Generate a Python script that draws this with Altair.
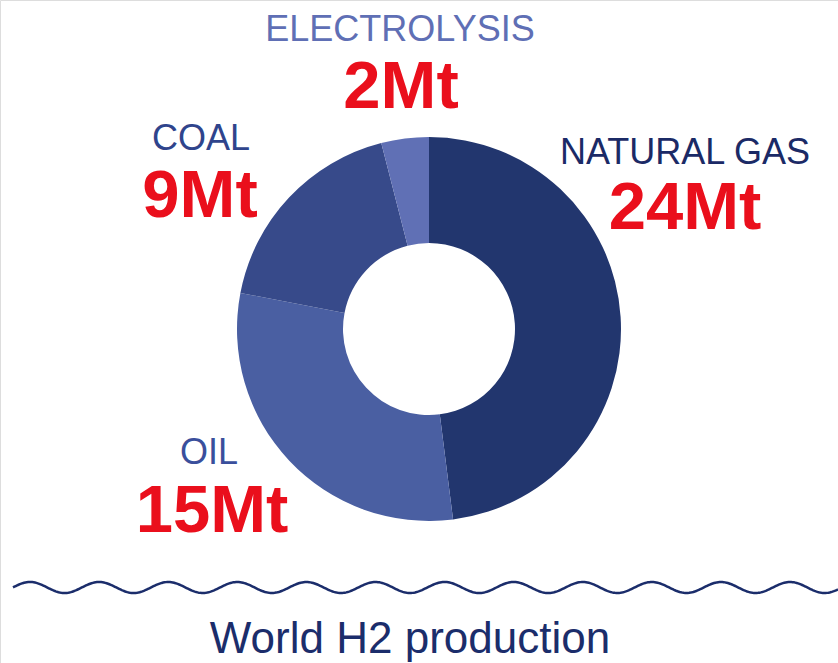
import altair as alt
import numpy as np
import pandas as pd

# Data
sources = ["NATURAL GAS", "OIL", "COAL", "ELECTROLYSIS"]
production_mt = [24, 15, 9, 2]
title_text = "World H2 production"

slice_colors = ["#22366e", "#4a5fa2", "#374a8a", "#6070b5"]
label_colors = ["#1b2a66", "#3a4f9c", "#2f448c", "#5f6fb5"]
red = "#ea0f1c"

W, H = 838, 663
CX, CY = 429, 329

df = pd.DataFrame({"source": sources, "value": production_mt, "idx": list(range(len(sources)))})

donut = alt.Chart(df).mark_arc(outerRadius=192, innerRadius=86).encode(
    theta=alt.Theta("value:Q", stack=True),
    color=alt.Color("source:N", scale=alt.Scale(domain=sources, range=slice_colors), legend=None),
    order=alt.Order("idx:Q"),
    x=alt.value(CX),
    y=alt.value(CY),
)

# decorative wavy line
wx = np.linspace(13, 838, 600)
wy = 587.5 - 5.5 * np.sin((wx - 30) / 69.1 * 2 * np.pi + np.pi / 2)
wave_df = pd.DataFrame({"px": wx, "py": wy})
wave = alt.Chart(wave_df).mark_line(color="#1b2d6b", strokeWidth=2.5).encode(
    x=alt.X("px:Q", scale=alt.Scale(domain=[0, W]), axis=None),
    y=alt.Y("py:Q", scale=alt.Scale(domain=[0, H], reverse=True), axis=None),
)

# label placement (name position, amount position)
name_pos = {
    "NATURAL GAS": (685, 164),
    "OIL": (209, 464),
    "COAL": (201, 150),
    "ELECTROLYSIS": (400, 41),
}
amt_pos = {
    "NATURAL GAS": (685, 229),
    "OIL": (212, 532),
    "COAL": (200, 217),
    "ELECTROLYSIS": (401, 108),
}

layers = [donut, wave]
for s, v, c in zip(sources, production_mt, label_colors):
    nx, ny = name_pos[s]
    ax_, ay = amt_pos[s]
    layers.append(
        alt.Chart(pd.DataFrame({"t": [s]})).mark_text(
            font="Liberation Sans", fontSize=36, color=c, align="center", baseline="alphabetic"
        ).encode(text="t:N", x=alt.value(nx), y=alt.value(ny))
    )
    layers.append(
        alt.Chart(pd.DataFrame({"t": [f"{v}Mt"]})).mark_text(
            font="Liberation Sans", fontSize=67, fontWeight="bold", color=red,
            align="center", baseline="alphabetic"
        ).encode(text="t:N", x=alt.value(ax_), y=alt.value(ay))
    )

layers.append(
    alt.Chart(pd.DataFrame({"t": [title_text]})).mark_text(
        font="Liberation Sans", fontSize=44, color="#1b2d6b",
        align="center", baseline="alphabetic"
    ).encode(text="t:N", x=alt.value(410), y=alt.value(653))
)

chart = alt.layer(*layers).properties(
    width=W, height=H, autosize=alt.AutoSizeParams(type="none"), padding=0
).configure_view(stroke=None).configure(background="white")

chart.save("out.html", embed_options={"renderer": "svg", "actions": False})
